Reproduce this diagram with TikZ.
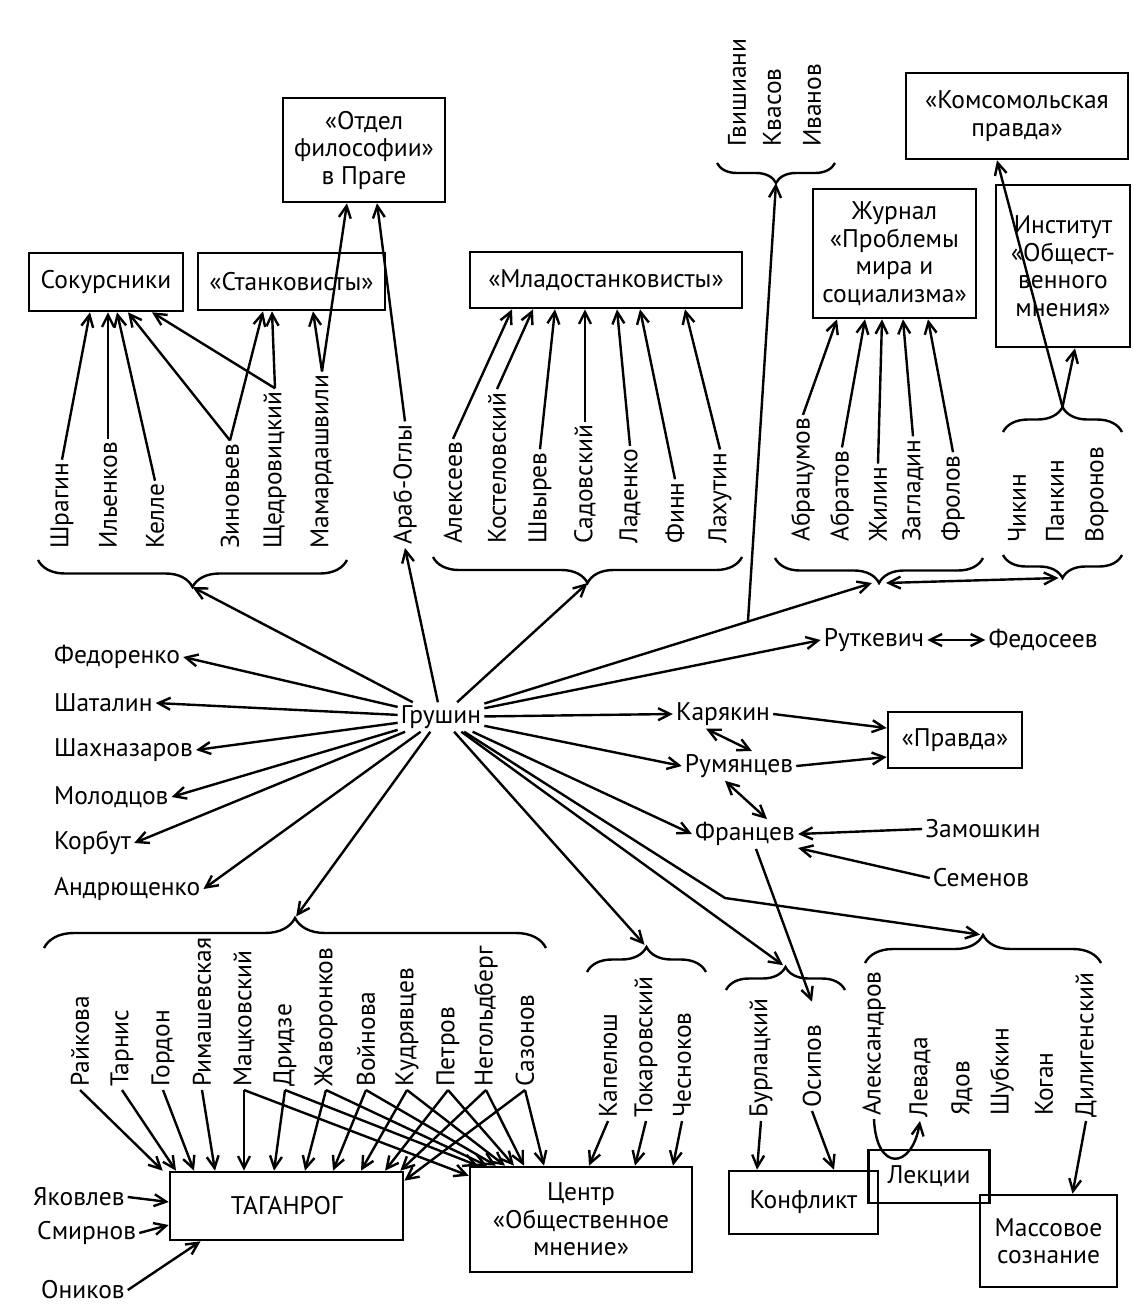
\documentclass[tikz,border=0pt]{standalone}
\usepackage{fontspec}
\setmainfont{PT Sans}
\usetikzlibrary{arrows.meta,decorations.pathreplacing,calc}
\begin{document}
\begin{tikzpicture}[x=1pt,y=-1pt,
  every node/.style={font=\fontsize{25.5}{27.5}\selectfont},
  box/.style={draw,line width=2.6pt,align=center,inner sep=0pt},
  nm/.style={inner sep=3pt},
  vn/.style={rotate=90,anchor=west,inner sep=3pt},
  ar/.style={line width=2.4pt,-{Straight Barb[length=12pt,width=12pt]}},
  dar/.style={line width=2.4pt,{Straight Barb[length=12pt,width=12pt]}-{Straight Barb[length=12pt,width=12pt]}},
  brc/.style={line width=2.4pt,decorate,decoration={brace,amplitude=#1}},
]
\useasboundingbox (0,0) rectangle (1133,1311);
\fill[white] (0,0) rectangle (1133,1311);

% ---------- boxes
\node[box,minimum width=162pt,minimum height=104pt] (otdel) at (364,150) {«Отдел\\философии»\\в Праге};
\node[box,minimum width=154pt,minimum height=58pt] (sokur) at (106,282) {Сокурсники};
\node[box,minimum width=187pt,minimum height=57pt] (stank) at (291.5,281.5) {«Станковисты»};
\node[box,minimum width=272pt,minimum height=56pt] (mlado) at (606,280) {«Младостанковисты»};
\node[box,minimum width=222pt,minimum height=86pt] (komso) at (1017,116) {«Комсомольская\\правда»};
\node[box,minimum width=163pt,minimum height=129pt] (zhurnal) at (894.5,253.5) {Журнал\\«Проблемы\\мира и\\социализма»};
\node[box,minimum width=134pt,minimum height=162pt] (institut) at (1063,266) {Институт\\«Общест-\\венного\\мнения»};
\node[box,minimum width=134pt,minimum height=56pt] (pravda) at (955,740) {«Правда»};
\node[box,minimum width=233pt,minimum height=68pt] (taganrog) at (286.5,1206) {ТАГАНРОГ};
\node[box,minimum width=222pt,minimum height=105pt] (centr) at (581,1219.5) {Центр\\«Общественное\\мнение»};
\node[box,minimum width=149pt,minimum height=63pt] (konflikt) at (803.5,1202.5) {Конфликт};
\node[box,minimum width=121pt,minimum height=53pt] (lekcii) at (929,1176.5) {Лекции};
\node[box,minimum width=137pt,minimum height=92pt] (massovoe) at (1048.5,1241) {Массовое\\сознание};

% ---------- top rotated names
\node[vn] (shragin) at (62,552) {Шрагин};
\node[vn] (ilenkov) at (108,552) {Ильенков};
\node[vn] (kelle) at (155,552) {Келле};
\node[vn] (zinov) at (230,552) {Зиновьев};
\node[vn] (shched) at (275,552) {Щедровицкий};
\node[vn] (mamard) at (322,552) {Мамардашвили};
\node[vn] (arab) at (405,548) {Араб-Оглы};

\node[vn] (alekseev) at (453,547) {Алексеев};
\node[vn] (kostel) at (497,547) {Костеловский};
\node[vn] (shvyrev) at (540,547) {Швырев};
\node[vn] (sadov) at (585,547) {Садовский};
\node[vn] (ladenko) at (630,547) {Ладенко};
\node[vn] (finn) at (675,547) {Финн};
\node[vn] (lakhutin) at (720,547) {Лахутин};

\node[vn] (gvish) at (737,150) {Гвишиани};
\node[vn] (kvasov) at (772,150) {Квасов};
\node[vn] (ivanov) at (812,150) {Иванов};

\node[vn] (abracum) at (803,545) {Абрацумов};
\node[vn] (abratov) at (842,545) {Абратов};
\node[vn] (zhilin) at (878,545) {Жилин};
\node[vn] (zagladin) at (913,545) {Загладин};
\node[vn] (frolov) at (953,545) {Фролов};

\node[vn] (chikin) at (1017,546) {Чикин};
\node[vn] (pankin) at (1055,546) {Панкин};
\node[vn] (voronov) at (1097,546) {Воронов};

% ---------- middle names
\node[nm] (grushin) at (441,717) {Грушин};
\node[nm,anchor=west] (fedorenko) at (51,657) {Федоренко};
\node[nm,anchor=west] (shatalin) at (51,703) {Шаталин};
\node[nm,anchor=west] (shakhnaz) at (51,750) {Шахназаров};
\node[nm,anchor=west] (molodcov) at (51,797) {Молодцов};
\node[nm,anchor=west] (korbut) at (51,843) {Корбут};
\node[nm,anchor=west] (andrusch) at (51,889) {Андрющенко};

\node[nm] (rutkevich) at (874,640) {Руткевич};
\node[nm] (fedoseev) at (1043,640) {Федосеев};
\node[nm] (karyakin) at (723,714) {Карякин};
\node[nm] (rumyan) at (739,766) {Румянцев};
\node[nm] (francev) at (745,834) {Францев};
\node[nm] (zamosh) at (983,829) {Замошкин};
\node[nm] (semenov) at (981,878) {Семенов};

% ---------- bottom names
\node[nm,anchor=west] (yakovlev) at (30,1197) {Яковлев};
\node[nm,anchor=west] (smirnov) at (34,1233) {Смирнов};
\node[nm,anchor=west] (onikov) at (38,1290) {Оников};

\node[vn] (raikova) at (80,1090) {Райкова};
\node[vn] (tarnis) at (122,1090) {Тарнис};
\node[vn] (gordon) at (163,1090) {Гордон};
\node[vn] (rimash) at (202,1090) {Римашевская};
\node[vn] (mackov) at (244,1090) {Мацковский};
\node[vn] (dridze) at (285,1090) {Дридзе};
\node[vn] (zhavor) at (326,1090) {Жаворонков};
\node[vn] (voinova) at (366,1090) {Войнова};
\node[vn] (kudr) at (407,1090) {Кудрявцев};
\node[vn] (petrov) at (448,1090) {Петров};
\node[vn] (negold) at (486,1090) {Негольдберг};
\node[vn] (sazonov) at (525,1090) {Сазонов};

\node[vn] (kapelush) at (608,1121) {Капелюш};
\node[vn] (tokar) at (646,1121) {Токаровский};
\node[vn] (chesnok) at (682,1121) {Чесноков};
\node[vn] (burlac) at (761,1121) {Бурлацкий};
\node[vn] (osipov) at (812,1111) {Осипов};
\node[vn] (alexandrov) at (874,1119) {Александров};
\node[vn] (levada) at (920,1121) {Левада};
\node[vn] (yadov) at (962,1119) {Ядов};
\node[vn] (shubkin) at (1002,1119) {Шубкин};
\node[vn] (kogan) at (1044,1119) {Коган};
\node[vn] (dilig) at (1086,1121) {Дилигенский};

% ---------- braces
\draw[brc=27pt] (347,560) -- (38,560);   \coordinate (tShr) at (192.5,587);
\draw[brc=26pt] (742,557) -- (433,557);  \coordinate (tMla) at (587.5,583);
\draw[brc=25pt] (983,558) -- (775,558);  \coordinate (tAbr) at (879,583);
\draw[brc=23pt] (1122,555) -- (1003,555);\coordinate (tChk) at (1062.5,578);
\draw[brc=25pt] (1003,432) -- (1122,432);\coordinate (tChkU) at (1062.5,407);
\draw[brc=20pt] (835,163) -- (717,163);  \coordinate (tGv) at (776,183);
\draw[brc=30pt] (44,948) -- (546,948);   \coordinate (tTag) at (295,918);
\draw[brc=25pt] (587,972) -- (706,972);  \coordinate (tKap) at (646.5,947);
\draw[brc=23pt] (726,990) -- (845,990);  \coordinate (tBur) at (785.5,967);
\draw[brc=28pt] (865,963) -- (1101,963); \coordinate (tAle) at (983,935);
\coordinate (bend) at (725,898);

% ---------- top connectors
\draw[ar] (shragin.east) -- ([xshift=-16pt]sokur.south);
\draw[ar] (ilenkov.east) -- ([xshift=2pt]sokur.south);
\draw[ar] (kelle.east) -- ([xshift=11pt]sokur.south);
\draw[ar] (zinov.east) -- ([xshift=22pt]sokur.south);
\draw[ar] (zinov.east) -- ([xshift=-28.5pt]stank.south);
\draw[ar] (shched.east) -- ([xshift=46pt]sokur.south);
\draw[ar] (shched.east) -- ([xshift=-19.5pt]stank.south);
\draw[ar] (mamard.east) -- ([xshift=21.5pt]stank.south);
\draw[ar] (mamard.east) -- ([xshift=-17pt]otdel.south);
\draw[ar] (arab.east) -- ([xshift=13pt]otdel.south);

\draw[ar] (alekseev.east) -- ([xshift=-94pt]mlado.south);
\draw[ar] (kostel.east) -- ([xshift=-73pt]mlado.south);
\draw[ar] (shvyrev.east) -- ([xshift=-51pt]mlado.south);
\draw[ar] (sadov.east) -- ([xshift=-21pt]mlado.south);
\draw[ar] (ladenko.east) -- ([xshift=11pt]mlado.south);
\draw[ar] (finn.east) -- ([xshift=34pt]mlado.south);
\draw[ar] (lakhutin.east) -- ([xshift=79pt]mlado.south);

\draw[ar] (abracum.east) -- ([xshift=-57.5pt]zhurnal.south);
\draw[ar] (abratov.east) -- ([xshift=-29.5pt]zhurnal.south);
\draw[ar] (zhilin.east) -- ([xshift=-12.5pt]zhurnal.south);
\draw[ar] (zagladin.east) -- ([xshift=8.5pt]zhurnal.south);
\draw[ar] (frolov.east) -- ([xshift=33.5pt]zhurnal.south);

\draw[ar] (tChkU) -- ([xshift=12pt]institut.south);
\draw[ar] (tChkU) -- ([xshift=-20pt]komso.south);
\draw[dar] ([xshift=7pt]tAbr) -- ([xshift=-4pt]tChk);

% ---------- Grushin fan
\draw[ar] (grushin) -- (fedorenko.east);
\draw[ar] (grushin) -- (shatalin.east);
\draw[ar] (grushin) -- (shakhnaz.east);
\draw[ar] (grushin) -- (molodcov.east);
\draw[ar] (grushin) -- (korbut.east);
\draw[ar] (grushin) -- (andrusch.east);
\draw[ar] (grushin) -- (tShr);
\draw[ar] (grushin) -- (arab.west);
\draw[ar] (grushin) -- (tMla);
\draw[ar] (grushin) -- ([xshift=-7pt]tAbr) coordinate[pos=0.68] (br);
\draw[ar] (br) -- (tGv);
\draw[ar] (grushin) -- (rutkevich.west);
\draw[dar] (rutkevich.east) -- (fedoseev.west);
\draw[ar] (grushin) -- (karyakin.west);
\draw[ar] (grushin) -- (rumyan.west);
\draw[ar] (grushin) -- (francev.west);
\draw[ar,shorten >=3pt] (grushin) -- (tKap);
\draw[ar,shorten >=3pt] (grushin) -- (tBur);
\draw[ar,shorten >=3pt] (grushin) -- (bend) -- (tAle);
\draw[ar,shorten >=2pt] (grushin) -- (tTag);

\draw[ar] (karyakin.east) -- ([yshift=12pt]pravda.west);
\draw[ar] (rumyan.east) -- ([yshift=-17pt]pravda.west);
\draw[dar] ([xshift=-17pt]karyakin.south) -- ([xshift=13pt]rumyan.north);
\draw[dar] ([xshift=-14pt]rumyan.south) -- ([xshift=22pt]francev.north);
\draw[ar] (zamosh.west) -- (francev.east);
\draw[ar] (semenov.west) -- ([yshift=-14pt]francev.east);
\draw[ar] ([xshift=11pt]francev.south) -- ([yshift=20pt]osipov.east);

% ---------- bottom connectors
\draw[ar] (yakovlev.east) -- ([yshift=4pt]taganrog.west);
\draw[ar] (smirnov.east) -- ([yshift=-19pt]taganrog.west);
\draw[ar] (onikov.east) -- ([xshift=-86pt]taganrog.south);
\draw[ar] (raikova.west) -- ([xshift=-6pt]taganrog.north west);
\draw[ar] (tarnis.west) -- ([xshift=-110.5pt]taganrog.north);
\draw[ar] (gordon.west) -- ([xshift=-92.5pt]taganrog.north);
\draw[ar] (rimash.west) -- ([xshift=-71.5pt]taganrog.north);
\draw[ar] (mackov.west) -- ([xshift=-42.5pt]taganrog.north);
\draw[ar] (dridze.west) -- ([xshift=-12.5pt]taganrog.north);
\draw[ar] (zhavor.west) -- ([xshift=18.5pt]taganrog.north);
\draw[ar] (voinova.west) -- ([xshift=46.5pt]taganrog.north);
\draw[ar] (kudr.west) -- ([xshift=74.5pt]taganrog.north);
\draw[ar] (petrov.west) -- ([xshift=98.5pt]taganrog.north);
\draw[ar] (negold.west) -- ([xshift=-4pt]taganrog.north east);
\draw[ar] (sazonov.west) -- ([yshift=-10pt]taganrog.north east);

\draw[ar] (mackov.west) -- ([yshift=-10pt]centr.north west);
\draw[ar] (dridze.west) -- ([xshift=-103pt]centr.north);
\draw[ar] (zhavor.west) -- ([xshift=-94pt]centr.north);
\draw[ar] (voinova.west) -- ([xshift=-85pt]centr.north);
\draw[ar] (kudr.west) -- ([xshift=-76pt]centr.north);
\draw[ar] (petrov.west) -- ([xshift=-67pt]centr.north);
\draw[ar] (negold.west) -- ([xshift=-57pt]centr.north);
\draw[ar] (sazonov.west) -- ([xshift=-37pt]centr.north);

\draw[ar] (kapelush.west) -- ([xshift=8pt]centr.north);
\draw[ar] (tokar.west) -- ([xshift=54pt]centr.north);
\draw[ar] (chesnok.west) -- ([xshift=92pt]centr.north);
\draw[ar] (burlac.west) -- ([xshift=-46.5pt]konflikt.north);
\draw[ar] (osipov.west) -- ([xshift=30.5pt]konflikt.north);
\draw[ar] (alexandrov.west) .. controls (876,1172) and (912,1170) .. (levada.west);
\draw[ar] (dilig.west) -- ([xshift=24pt]massovoe.north);
\end{tikzpicture}
\end{document}
